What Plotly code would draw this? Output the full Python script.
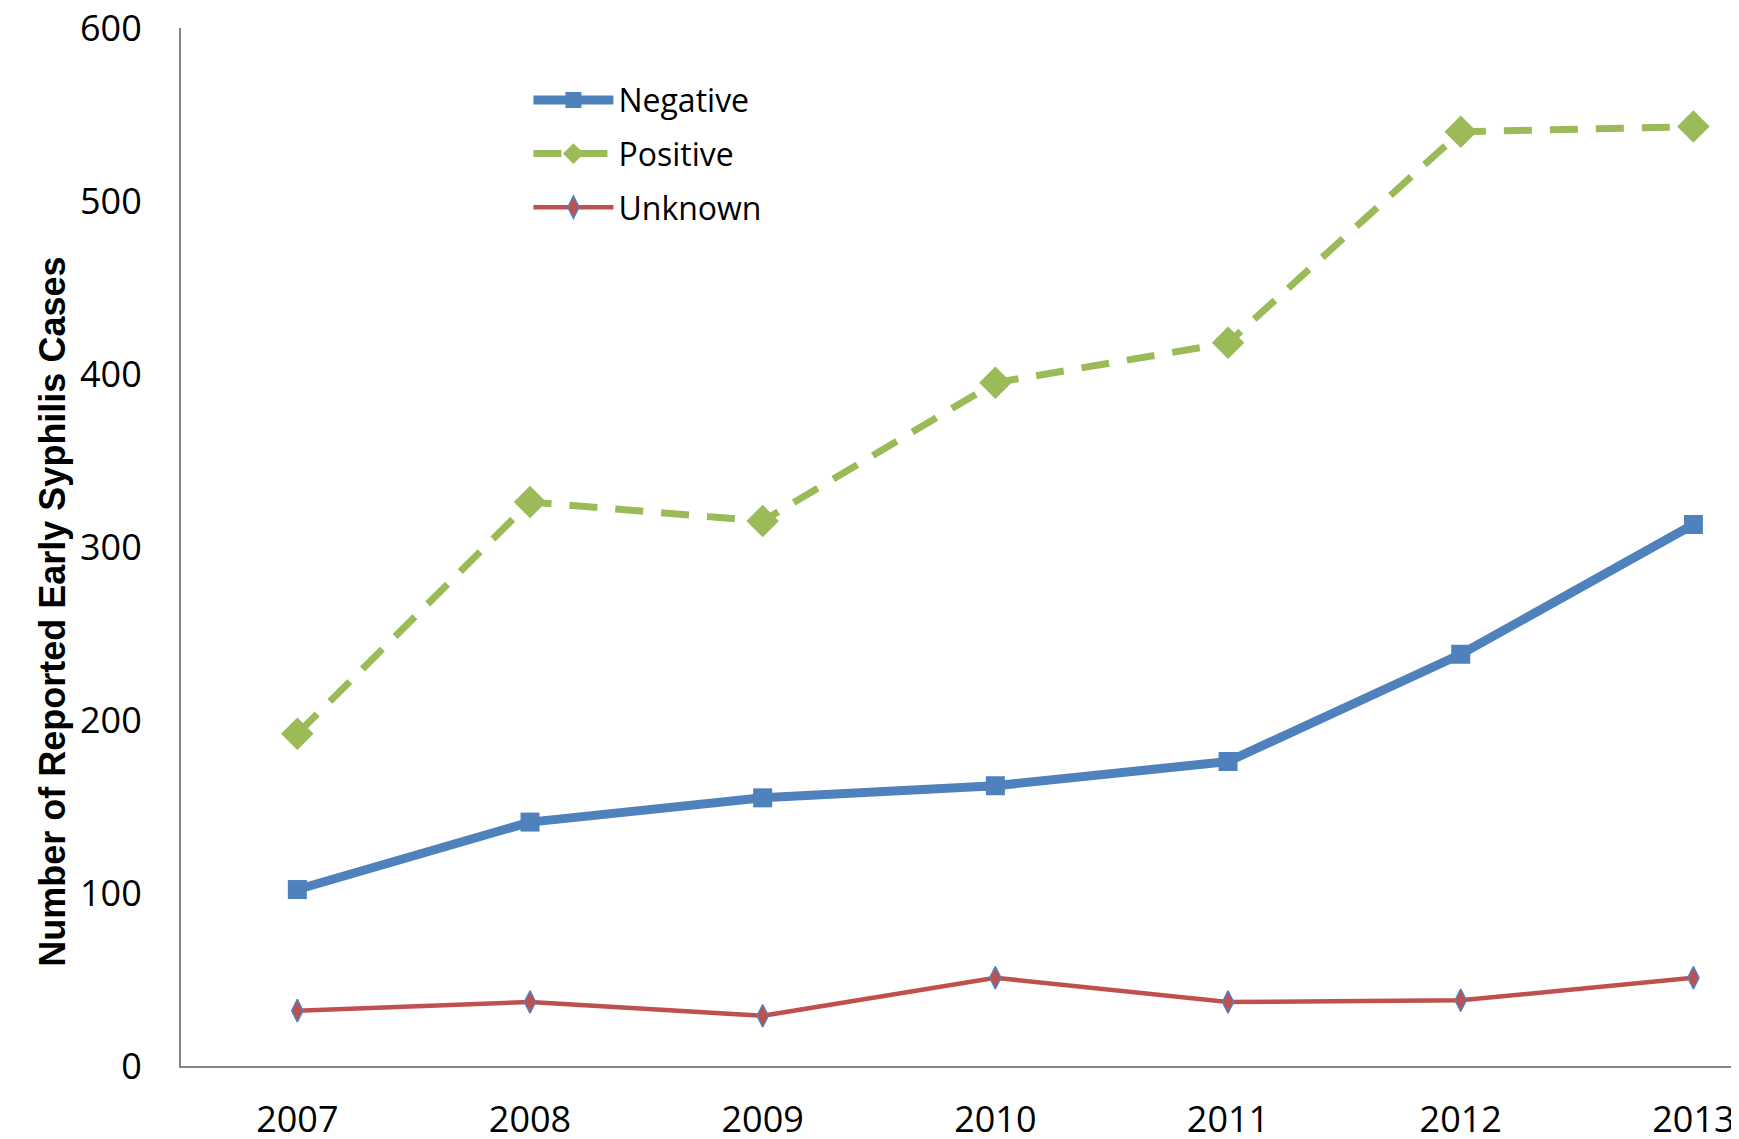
import plotly.graph_objects as go

years = [2007, 2008, 2009, 2010, 2011, 2012, 2013]
negative = [102, 141, 155, 162, 176, 238, 313]
positive = [192, 326, 315, 395, 418, 540, 543]
unknown = [32, 37, 29, 51, 37, 38, 51]
y_ticks = [0, 100, 200, 300, 400, 500, 600]

FONT = "Open Sans, Liberation Sans, sans-serif"

fig = go.Figure()

fig.add_trace(go.Scatter(
    x=years, y=negative, name="Negative", mode="lines+markers", legendgroup="a",
    line=dict(color="#4F81BD", width=9),
    marker=dict(symbol="square", size=19, color="#4F81BD"),
))
fig.add_trace(go.Scatter(
    x=years, y=positive, name="Positive", mode="lines+markers", legendgroup="b",
    line=dict(color="#9BBB59", width=7, dash="28px,18px"),
    marker=dict(symbol="diamond", size=25, color="#9BBB59"),
))
fig.add_trace(go.Scatter(
    x=years, y=unknown, name="Unknown", mode="lines+markers", legendgroup="c",
    line=dict(color="#C0504D", width=4.5),
    marker=dict(symbol="diamond-tall", size=16, color="#C0504D",
                line=dict(color="#4F81BD", width=1.5)),
))

# page has an 8px body margin, so the figure is drawn 8px smaller
fig.update_layout(
    width=1731, height=1131,
    paper_bgcolor="white", plot_bgcolor="white",
    font=dict(family=FONT, size=34, color="black"),
    margin=dict(l=173, r=0, t=20, b=73, autoexpand=False),
    showlegend=True,
    legend=dict(
        x=0.223, y=0.957, xanchor="left", yanchor="top",
        bgcolor="rgba(0,0,0,0)", itemwidth=80,
        font=dict(family=FONT, size=32),
        tracegroupgap=9,
    ),
    xaxis=dict(
        range=[2006.5, 2013.196], tickvals=years,
        showgrid=False, zeroline=False, automargin=False,
        showline=True, linecolor="#868686", linewidth=2,
        ticks="", ticklabelstandoff=21, ticklabeloverflow="allow",
        tickfont=dict(family=FONT, size=36),
    ),
    yaxis=dict(
        range=[0, 600], tickvals=y_ticks,
        showgrid=False, zeroline=False, automargin=False,
        showline=True, linecolor="#868686", linewidth=2,
        ticks="", ticklabelstandoff=30, ticklabeloverflow="allow",
        tickfont=dict(family=FONT, size=36),
    ),
    annotations=[dict(
        text="<b>Number of Reported Early Syphilis Cases</b>",
        xref="paper", yref="paper", x=-0.097, y=0.438,
        textangle=-90, showarrow=False,
        font=dict(family="Liberation Sans Narrow, Liberation Sans, sans-serif", size=36),
    )],
)

fig.write_html("out.html")
